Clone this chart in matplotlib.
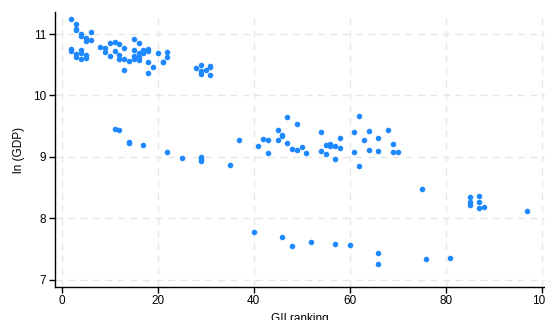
import numpy as np
import matplotlib.pyplot as plt

# GII ranking vs ln(GDP)
gii_rank = [
    2, 2, 2, 3, 3, 3, 3, 3, 4, 4, 4, 4, 4, 5, 5, 5, 5, 6, 6,
    8, 9, 9, 10, 10, 11, 11, 12, 12, 12, 13, 13, 13, 14,
    15, 15, 15, 15, 16, 16, 16, 16, 17, 17, 18, 18, 18, 18,
    19, 20, 21, 21, 22, 22, 28, 29, 29, 29, 30, 31, 31, 31,
    11, 12, 14, 14, 17, 22, 25, 29, 29, 29, 35, 37, 41, 42, 43, 43,
    45, 45, 46, 46, 47, 47, 48, 49, 49, 50, 51, 54, 54, 55, 55,
    56, 56, 57, 57, 58, 58, 61, 61, 62, 62, 63, 64, 64, 66, 66,
    68, 69, 69, 70,
    75, 85, 85, 85, 87, 87, 87, 88, 97,
    40, 46, 48, 52, 57, 60, 66, 66, 76, 81,
]
ln_gdp = [
    11.24, 10.76, 10.72, 11.16, 11.08, 11.06, 10.67, 10.63,
    11.00, 10.97, 10.74, 10.70, 10.60, 10.94, 10.88, 10.66, 10.61,
    11.04, 10.91,
    10.79, 10.78, 10.71, 10.85, 10.65, 10.87, 10.72, 10.84, 10.66, 10.60,
    10.78, 10.59, 10.42, 10.57,
    10.92, 10.74, 10.65, 10.60, 10.86, 10.69, 10.62, 10.58, 10.74, 10.69,
    10.75, 10.73, 10.55, 10.36,
    10.46, 10.70, 10.55, 10.54, 10.71, 10.62, 10.44, 10.49, 10.40, 10.35,
    10.42, 10.48, 10.46, 10.33,
    9.46, 9.43, 9.25, 9.22, 9.19, 9.08, 8.99, 9.00, 8.96, 8.93, 8.86,
    9.27, 9.17, 9.29, 9.27, 9.07,
    9.44, 9.28, 9.36, 9.34, 9.65, 9.22, 9.13, 9.54, 9.11, 9.16, 9.06,
    9.40, 9.10, 9.19, 9.05,
    9.21, 9.18, 9.17, 8.96, 9.30, 9.14, 9.40, 9.08, 9.67, 8.85, 9.28,
    9.42, 9.12, 9.30, 9.09,
    9.43, 9.21, 9.08, 9.08,
    8.47, 8.34, 8.27, 8.21, 8.37, 8.26, 8.16, 8.18, 8.12,
    7.77, 7.70, 7.55, 7.62, 7.58, 7.57, 7.44, 7.26, 7.34, 7.36,
]

plt.rcParams["font.family"] = ["Liberation Sans", "DejaVu Sans"]

fig = plt.figure(figsize=(5.45, 3.2), dpi=100)
ax = fig.add_axes([0.1004, 0.103, 0.8996, 0.8595])

ax.scatter(gii_rank, ln_gdp, s=16, color="#1E88FF", linewidths=0, zorder=3)

ax.set_xlim(-1.46, 100.7)
ax.set_ylim(6.88, 11.36)
ax.set_xticks([0, 20, 40, 60, 80, 100])
ax.set_yticks([7, 8, 9, 10, 11])

ax.grid(True, linestyle=(0, (5, 4)), color="#e6e6e6", linewidth=1.0, zorder=0)
ax.spines["top"].set_visible(False)
ax.spines["right"].set_visible(False)
for s in ("left", "bottom"):
    ax.spines[s].set_linewidth(1.0)
ax.tick_params(labelsize=8.5, length=4, width=1.0, pad=2)

ax.set_xlabel("GII ranking", fontsize=8.5, labelpad=4)
ax.set_ylabel("ln (GDP)", fontsize=8.5, labelpad=6)

fig.savefig("out.png", dpi=100)
